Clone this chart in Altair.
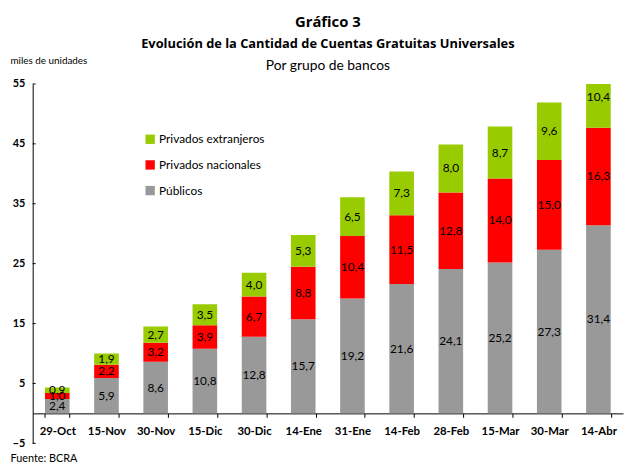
import altair as alt
import pandas as pd

fechas = ["29-Oct", "15-Nov", "30-Nov", "15-Dic", "30-Dic", "14-Ene",
          "31-Ene", "14-Feb", "28-Feb", "15-Mar", "30-Mar", "14-Abr"]
publicos = [2.4, 5.9, 8.6, 10.8, 12.8, 15.7, 19.2, 21.6, 24.1, 25.2, 27.3, 31.4]
nacionales = [1.0, 2.2, 3.2, 3.9, 6.7, 8.8, 10.4, 11.5, 12.8, 14.0, 15.0, 16.3]
extranjeros = [0.9, 1.9, 2.7, 3.5, 4.0, 5.3, 6.5, 7.3, 8.0, 8.7, 9.6, 10.4]
grupos = ["Privados extranjeros", "Privados nacionales", "Públicos"]
colores = ["#99cc00", "#ff0000", "#999999"]
y_ticks = [-5, 5, 15, 25, 35, 45, 55]
titulo = "Gráfico 3"
subtitulo = "Evolución de la Cantidad de Cuentas Gratuitas Universales"
subtitulo2 = ["Por grupo de bancos"]
fuente = "Fuente: BCRA"
unidad = "miles de unidades"

rows = []
series = [("Públicos", publicos), ("Privados nacionales", nacionales),
          ("Privados extranjeros", extranjeros)]
for i, f in enumerate(fechas):
    for orden, (g, vals) in enumerate(series):
        rows.append({"fecha": f, "grupo": g, "valor": vals[i], "orden": orden})
df = pd.DataFrame(rows)

W, H = 598, 364
FONT = "Lato"
TFONT = "Open Sans"
yscale = alt.Scale(domain=[-5, 55], nice=False, zero=False)

base = alt.Chart(df).transform_stack(
    stack="valor", groupby=["fecha"], as_=["y0", "y1"],
    sort=[alt.SortField(field="orden", order="ascending")]
).transform_calculate(
    mid="(datum.y0 + datum.y1) / 2",
    etiqueta="replace(format(datum.valor, '.1f'), '.', ',')"
)

xenc = alt.X(
    "fecha:N", sort=fechas,
    scale=alt.Scale(paddingInner=0.5, paddingOuter=0.25),
    axis=alt.Axis(
        offset=-(H * 5 / 60), tickBand="extent", tickSize=4, labelAngle=0,
        labelFontWeight="bold", labelFontSize=11.5, labelFont=FONT, labelPadding=8,
        labelColor="black", domainColor="black", tickColor="black",
        title=fuente, titleX=-23, titleY=46, titleAlign="left",
        titleAnchor="start", titleBaseline="middle", titleFontWeight="normal",
        titleFontSize=11, titleFont=FONT, titleColor="black", grid=False,
    ),
)

bars = base.mark_bar(clip=True).encode(
    x=xenc,
    y=alt.Y(
        "y0:Q", scale=yscale,
        axis=alt.Axis(
            values=y_ticks, ticks=False, grid=False, labelFontWeight="bold",
            labelFontSize=11, labelFont=FONT, labelColor="black", labelPadding=8,
            domainColor="black", title=unidad, titleAngle=0, titleX=-23,
            titleY=-24, titleAlign="left", titleBaseline="middle",
            titleFontSize=10, titleFontWeight="normal", titleFont=FONT,
            titleColor="black",
        ),
    ),
    y2="y1:Q",
    color=alt.Color(
        "grupo:N", scale=alt.Scale(domain=grupos, range=colores),
        legend=alt.Legend(
            orient="none", legendX=113, legendY=50, title=None,
            symbolType="square", symbolSize=90, symbolStrokeWidth=0,
            labelFontSize=12, labelFont=FONT, labelColor="black",
            rowPadding=14, labelOffset=3,
        ),
    ),
    order=alt.Order("orden:Q"),
)

labels = base.mark_text(fontSize=12, font=FONT, color="black").encode(
    x=alt.X("fecha:N", sort=fechas),
    y=alt.Y("mid:Q", scale=yscale),
    text="etiqueta:N",
)

ticks_in = alt.Chart(pd.DataFrame({"v": y_ticks})).mark_rule(
    color="black", strokeWidth=1
).encode(
    y=alt.Y("v:Q", scale=yscale),
    x=alt.value(0), x2=alt.value(3),
)

sub2 = alt.Chart(pd.DataFrame({"t": subtitulo2})).mark_text(
    fontSize=14, font=FONT, color="black"
).encode(text="t:N", x=alt.value(W / 2), y=alt.value(-18))

chart = alt.layer(bars, labels, ticks_in, sub2).properties(
    width=W, height=H,
    title=alt.TitleParams(
        text=titulo, subtitle=subtitulo, fontSize=15, fontWeight="bold",
        font=TFONT, color="black", subtitleFont=TFONT, subtitleFontSize=13,
        subtitleFontWeight="bold", subtitleColor="black", anchor="middle",
        subtitlePadding=9, offset=4,
    ),
    autosize=alt.AutoSizeParams(type="none"),
    padding={"left": 25, "top": 74, "right": 1, "bottom": 19},
).configure_view(stroke=None)

chart.save("out.html", embed_options={"renderer": "svg", "actions": False})
